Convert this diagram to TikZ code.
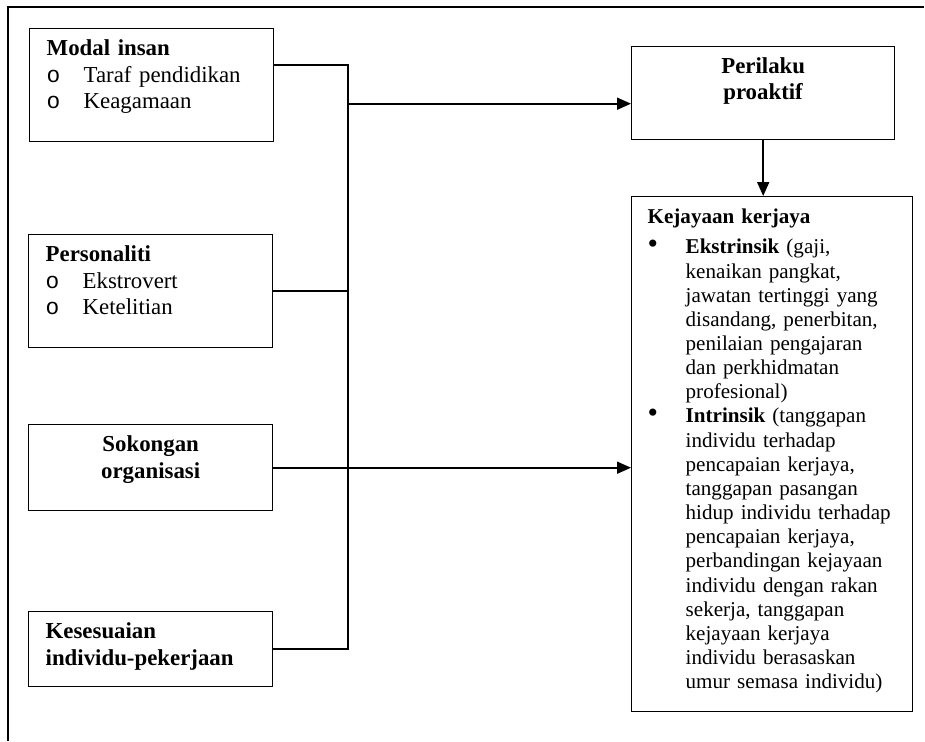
\documentclass[tikz,border=0pt]{standalone}
\usepackage{fontspec}
\setmainfont{Liberation Serif}
\newfontfamily\ringfont{Liberation Mono}
\usepackage{tikz}
\usetikzlibrary{arrows.meta, calc}

\newcommand{\ringitem}{\makebox[0.74cm][l]{\ringfont o}}
\newcommand{\dotitem}{\noindent\hangindent=0.76cm\hangafter=1%
  \makebox[0.76cm][l]{{\fontsize{17}{13}\selectfont\textbullet}}}

\begin{document}
\begin{tikzpicture}[
    x=0.02cm, y=-0.02cm,
    >={Triangle[length=2.8mm,width=2.4mm]},
    box/.style   = {draw, line width=0.8pt, anchor=north west, inner ysep=0pt,
                    text height=0.54cm, align=left},
    lbox/.style  = {box, font={\fontsize{13}{15}\selectfont},
                    inner xsep=0.34cm, text width=4.2cm},
    rbox/.style  = {box, font={\fontsize{12}{13.75}\selectfont},
                    inner xsep=0.32cm, text width=4.98cm},
    link/.style  = {line width=1pt},
    arr/.style   = {link, ->}
]
\useasboundingbox (0,0) rectangle (925,741);
\fill[white] (0,0) rectangle (925,741);

% outer frame (runs off the page to the right and bottom)
\draw[line width=0.8pt] (924,7) -- (8,7) -- (8,741);

% ---------------- factors (left column) ----------------
\node[lbox, text depth=1.72cm] (modal) at (29,28) {%
    \textbf{Modal insan}\\
    \ringitem Taraf pendidikan\\
    \ringitem Keagamaan};
\node[lbox, text depth=1.72cm] (pers) at (28,234) {%
    \textbf{Personaliti}\\
    \ringitem Ekstrovert\\
    \ringitem Ketelitian};
\node[lbox, text depth=1.18cm, align=center] (sok) at (28,424) {%
    \textbf{Sokongan}\\
    \textbf{organisasi}};
\node[lbox, text depth=0.96cm] (kes) at (28,611) {%
    \textbf{Kesesuaian}\\
    \textbf{individu-pekerjaan}};

% ---------------- outcomes (right column) ----------------
\node[box, font={\fontsize{13}{14.5}\selectfont}, inner xsep=0.34cm,
      text width=4.58cm, text depth=1.32cm, align=center] (peri) at (631,46) {%
    \textbf{Perilaku}\\
    \textbf{proaktif}};
\node[rbox, text depth=9.76cm] (keja) at (631,196) {%
    \textbf{Kejayaan kerjaya}\par\vspace{0.12cm}
    \dotitem\textbf{Ekstrinsik} (gaji,\newline
    kenaikan pangkat,\newline
    jawatan tertinggi yang\newline
    disandang, penerbitan,\newline
    penilaian pengajaran\newline
    dan perkhidmatan\newline
    profesional)\par
    \dotitem\textbf{Intrinsik} (tanggapan\newline
    individu terhadap\newline
    pencapaian kerjaya,\newline
    tanggapan pasangan\newline
    hidup individu terhadap\newline
    pencapaian kerjaya,\newline
    perbandingan kejayaan\newline
    individu dengan rakan\newline
    sekerja, tanggapan\newline
    kejayaan kerjaya\newline
    individu berasaskan\newline
    umur semasa individu)\par};

% routing helper coordinates
\coordinate (bus)  at (348,0);
\coordinate (perin) at ([yshift=-0.21cm]peri.west);

% ---------------- connectors ----------------
% bus collecting the four factors
\draw[link] ([yshift=-0.74cm]modal.north east) -| (bus |- kes.east) -- (kes.east);
\draw[link] (pers.east) -- (bus |- pers.east);
% bus -> proactive behaviour
\draw[arr] (bus |- perin) -- (perin);
% organisational support -> career success
\draw[arr] (sok.east) -- (keja.west |- sok.east);
% proactive behaviour -> career success
\draw[arr] (peri.south) -- (peri.south |- keja.north);

\end{tikzpicture}
\end{document}
